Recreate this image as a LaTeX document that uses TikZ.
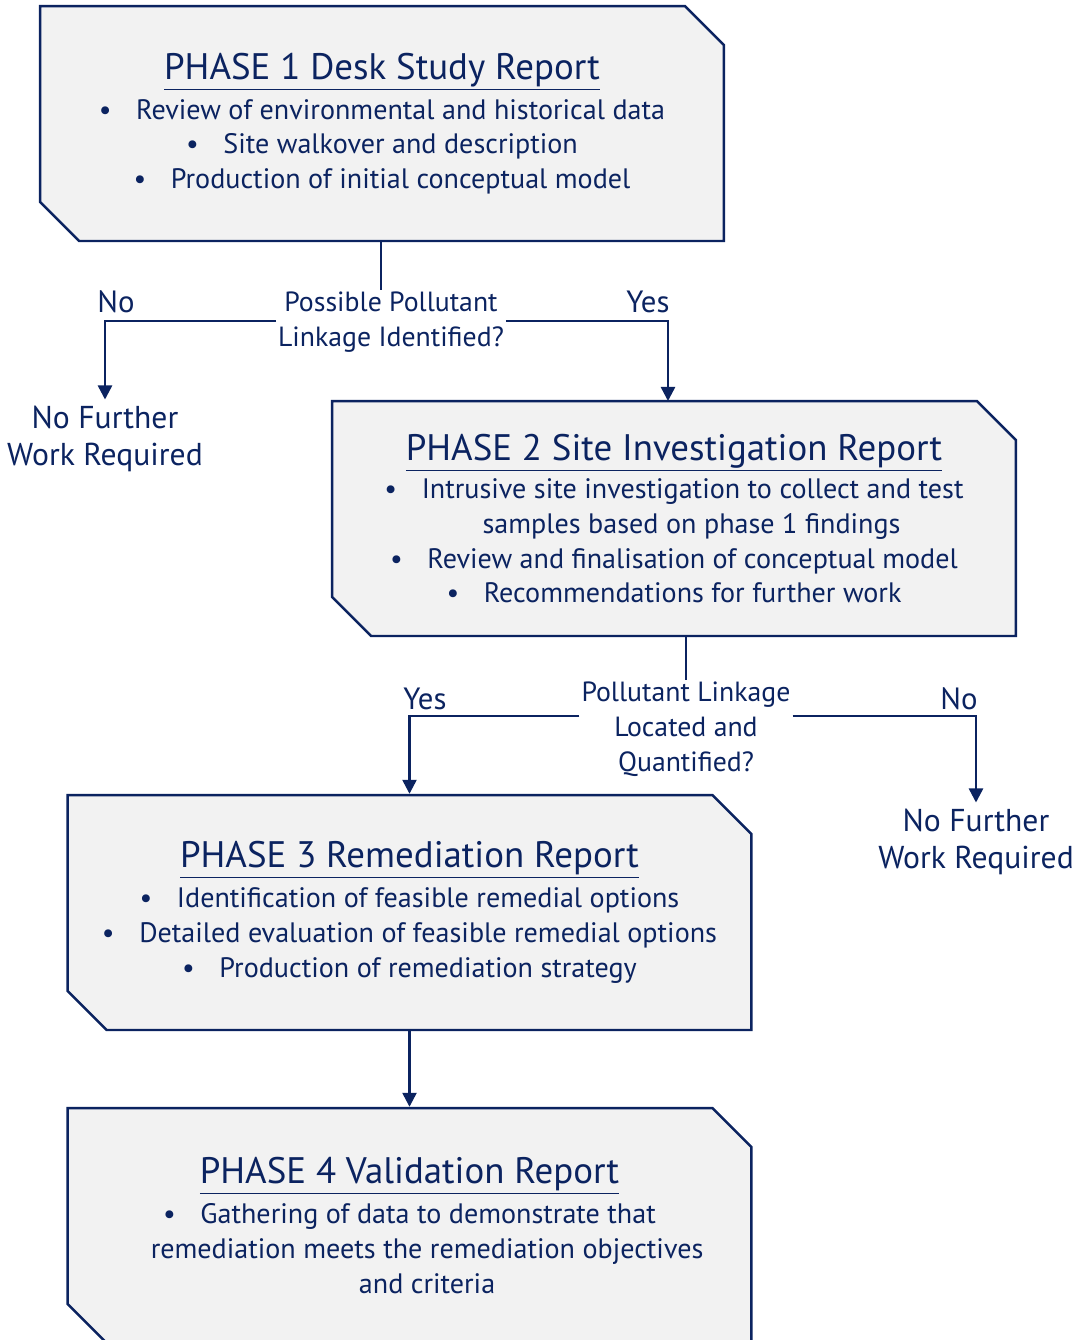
\documentclass[tikz,border=0pt]{standalone}
\usepackage{fontspec}
\setmainfont{PT Sans}
\usetikzlibrary{shapes.misc,arrows.meta,positioning}
\definecolor{navy}{HTML}{0B2360}
\definecolor{boxgrey}{HTML}{F2F2F2}
\tikzset{
  phase/.style={chamfered rectangle, chamfered rectangle corners={north east,south west},
    chamfered rectangle xsep=0.39cm, chamfered rectangle ysep=0.39cm,
    draw=navy, fill=boxgrey, line width=1.4pt, minimum width=13.68cm, minimum height=4.7cm,
    align=center, text=navy, font=\fontsize{16}{19.8}\selectfont, inner sep=0pt},
  question/.style={align=center, text=navy, font=\fontsize{15.8}{19.8}\selectfont, inner sep=1pt},
  answer/.style={align=center, text=navy, font=\fontsize{17.5}{21.5}\selectfont},
  outcome/.style={align=center, text=navy, font=\fontsize{18}{21.5}\selectfont},
  link/.style={draw=navy, line width=1.4pt},
  flow/.style={link, -{Triangle[width=8pt,length=8pt]}}
}
\newcommand{\phasetitle}[1]{{\fontsize{21}{19.8}\selectfont\underline{#1}}}
\newcommand{\itembullet}{\textbullet\hspace{14pt}}
\newcommand{\itemhang}{\hspace*{20pt}}
\begin{document}
\begin{tikzpicture}[x=0.02cm,y=-0.02cm]
                \useasboundingbox (0,0) rectangle (1075,1340);

                \node[phase] (phase1) at (382,123.5) {\phasetitle{PHASE 1 Desk Study Report}\\[3pt]
                    \itembullet Review of environmental and historical data\\
                    \itembullet Site walkover and description\\
                    \itembullet Production of initial conceptual model};
                \node[phase] (phase2) at (674,518.5) {\phasetitle{PHASE 2 Site Investigation Report}\\[2pt]
                    \itembullet Intrusive site investigation to collect and test\\
                    \itemhang samples based on phase 1 findings\\
                    \itembullet Review and finalisation of conceptual model\\
                    \itembullet Recommendations for further work};
                \node[phase] (phase3) at (409.5,912.5) {\phasetitle{PHASE 3 Remediation Report}\\[3pt]
                    \itembullet Identification of feasible remedial options\\
                    \itembullet Detailed evaluation of feasible remedial options\\
                    \itembullet Production of remediation strategy};
                \node[phase] (phase4) at (409.5,1225.5) {\phasetitle{PHASE 4 Validation Report}\\[3pt]
                    \itembullet Gathering of data to demonstrate that\\
                    \itemhang remediation meets the remediation objectives\\
                    \itemhang and criteria};

                \node[question] (linkage1) at (391,322) {Possible Pollutant\\Linkage Identified?};
                \node[question] (linkage2) at (686,729) {Pollutant Linkage\\Located and\\Quantified?};
                \node[outcome] (stop1) at (105,439) {No Further\\Work Required};
                \node[outcome] (stop2) at (976,842) {No Further\\Work Required};

                \node[answer] (no1) at (116,302) {No};
                \node[answer] (yes1) at (648,302) {Yes};
                \node[answer] (yes2) at (425,699) {Yes};
                \node[answer] (no2) at (959,699) {No};

                \coordinate (fork1) at (381,321);
                \coordinate (fork2) at (686,716);
                \coordinate (entry2) at (668,401);

                \draw[link] (fork1 |- phase1.south) -- (fork1 |- linkage1.north);
                \draw[flow] (linkage1.west |- fork1) -| (stop1.north);
                \draw[flow] (linkage1.east |- fork1) -| (entry2);
                \draw[link] (phase2.south -| linkage2.north) -- (linkage2.north);
                \draw[flow] (linkage2.west |- fork2) -| (phase3.north);
                \draw[flow] (linkage2.east |- fork2) -| (stop2.north);
                \draw[flow] (phase3.south) -- (phase4.north);

\end{tikzpicture}
\end{document}
